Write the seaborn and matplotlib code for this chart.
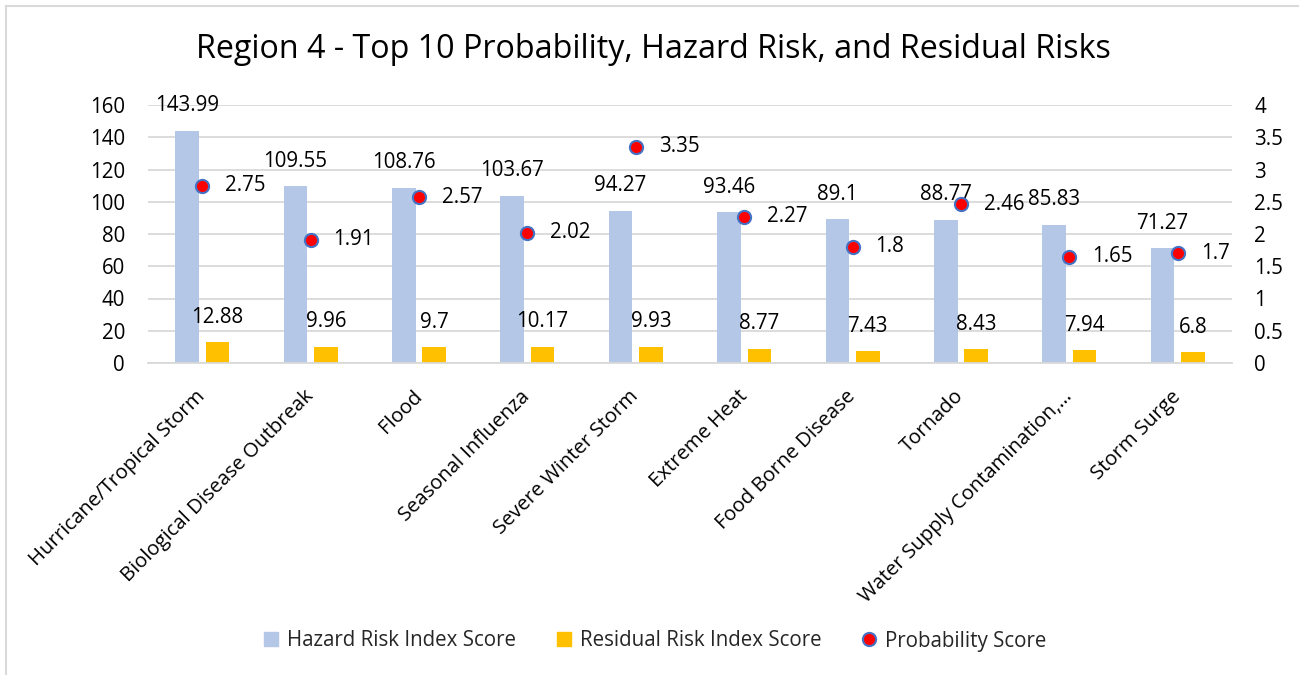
import numpy as np
import pandas as pd
import matplotlib
matplotlib.use("Agg")
import matplotlib.pyplot as plt
import matplotlib.transforms as mtransforms
from matplotlib.lines import Line2D
import seaborn as sns

categories = ["Hurricane/Tropical Storm", "Biological Disease Outbreak", "Flood",
              "Seasonal Influenza", "Severe Winter Storm", "Extreme Heat",
              "Food Borne Disease", "Tornado", "Water Supply Contamination,…",
              "Storm Surge"]
hazard = [143.99, 109.55, 108.76, 103.67, 94.27, 93.46, 89.1, 88.77, 85.83, 71.27]
residual = [12.88, 9.96, 9.7, 10.17, 9.93, 8.77, 7.43, 8.43, 7.94, 6.8]
probability = [2.75, 1.91, 2.57, 2.02, 3.35, 2.27, 1.8, 2.46, 1.65, 1.7]
hazard_label_txt = ["143.99", "109.55", "108.76", "103.67", "94.27", "93.46", "89.1", "88.77", "85.83", "71.27"]
residual_label_txt = ["12.88", "9.96", "9.7", "10.17", "9.93", "8.77", "7.43", "8.43", "7.94", "6.8"]
prob_label_txt = ["2.75", "1.91", "2.57", "2.02", "3.35", "2.27", "1.8", "2.46", "1.65", "1.7"]
series_names = ["Hazard Risk Index Score", "Residual Risk Index Score", "Probability Score"]
left_ticks = [0, 20, 40, 60, 80, 100, 120, 140, 160]
right_ticks = [0, 0.5, 1, 1.5, 2, 2.5, 3, 3.5, 4]
right_tick_txt = ["0", "0.5", "1", "1.5", "2", "2.5", "3", "3.5", "4"]

sns.set_theme(style="white")
plt.rcParams["font.family"] = ["Open Sans", "DejaVu Sans"]

C_HAZ = "#B4C7E7"
C_RES = "#FFC000"
C_GRID = "#D9D9D9"
C_TXT = "#000000"
FS = 14.8
FS_X = 14.6

df = pd.DataFrame({
    "category": categories * 2,
    "value": hazard + residual,
    "series": [series_names[0]] * len(categories) + [series_names[1]] * len(categories),
})

fig = plt.figure(figsize=(12.99, 6.75), dpi=100)
ax = fig.add_axes([148 / 1299, 1 - 363 / 675, (1232 - 148) / 1299, (363 - 105) / 675])

sns.barplot(data=df, x="category", y="value", hue="series", order=categories,
            hue_order=series_names[:2], palette=[C_HAZ, C_RES], width=0.56, gap=0.22,
            legend=False, ax=ax, saturation=1, linewidth=0)

ax.set_ylim(0, 160)
ax.set_xlim(-0.5, len(categories) - 0.5)
ax.set_yticks(left_ticks)
ax.set_yticklabels([str(t) for t in left_ticks], fontsize=FS, color=C_TXT)
ax.yaxis.grid(True, color=C_GRID, linewidth=1.3)
ax.set_axisbelow(True)
for s in ["left", "right", "top"]:
    ax.spines[s].set_visible(False)
ax.spines["bottom"].set_color(C_GRID)
ax.spines["bottom"].set_linewidth(1.3)
ax.set_xlabel("")
ax.set_ylabel("")
ax.tick_params(axis="both", length=0)
ax.tick_params(axis="y", pad=16.5)
ax.tick_params(axis="x", pad=22)
ax.set_xticks(range(len(categories)))
ax.set_xticklabels(categories, rotation=45, ha="right", va="center",
                   rotation_mode="anchor", fontsize=FS_X, color=C_TXT)

# bar value labels
for cont, texts in zip(ax.containers, [hazard_label_txt, residual_label_txt]):
    for bar, t in zip(cont, texts):
        cx = bar.get_x() + bar.get_width() / 2
        top = bar.get_height()
        ax.annotate(t, xy=(cx, top), xytext=(0, 25), textcoords="offset pixels",
                    ha="center", va="center", fontsize=FS, color=C_TXT)

# secondary axis
ax2 = ax.twinx()
pos = np.arange(len(categories))
sns.scatterplot(x=pos, y=probability, ax=ax2, color="#FF0000", edgecolor="#4472C4",
                linewidth=1.5, s=90, zorder=5, legend=False)
ax2.set_ylim(0, 4)
ax2.set_yticks(right_ticks)
ax2.set_yticklabels(right_tick_txt, fontsize=FS, color=C_TXT)
ax2.tick_params(axis="y", length=0, pad=16)
for s in ["left", "right", "top", "bottom"]:
    ax2.spines[s].set_visible(False)
ax2.grid(False)
ax2.set_xlim(-0.5, len(categories) - 0.5)
for x, y, t in zip(pos, probability, prob_label_txt):
    ax2.annotate(t, xy=(x, y), xytext=(23, 0), textcoords="offset pixels",
                 ha="left", va="center", fontsize=FS, color=C_TXT)

fig.text(0.503, 1 - 50 / 675, "Region 4 - Top 10 Probability, Hazard Risk, and Residual Risks",
         ha="center", va="center", fontsize=23.2, color=C_TXT)

handles = [
    Line2D([], [], linestyle="none", marker="s", markersize=9.5, markerfacecolor=C_HAZ, markeredgecolor=C_HAZ),
    Line2D([], [], linestyle="none", marker="s", markersize=9.5, markerfacecolor=C_RES, markeredgecolor=C_RES),
    Line2D([], [], linestyle="none", marker="o", markersize=9.5, markerfacecolor="#FF0000",
           markeredgecolor="#4472C4", markeredgewidth=1.5),
]
fig.legend(handles, series_names, loc="center", bbox_to_anchor=(0.504, 1 - 641 / 675), ncol=3,
           frameon=False, fontsize=FS, handlelength=0.8, handletextpad=0.4, columnspacing=1.9)

# chart border (top and left visible)
fig.add_artist(Line2D([6 / 1299, 1], [1 - 6 / 675, 1 - 6 / 675], transform=fig.transFigure,
                      color=C_GRID, linewidth=1.5))
fig.add_artist(Line2D([6 / 1299, 6 / 1299], [0, 1 - 6 / 675], transform=fig.transFigure,
                      color=C_GRID, linewidth=1.5))

fig.savefig("out.png", dpi=100, facecolor="white")
